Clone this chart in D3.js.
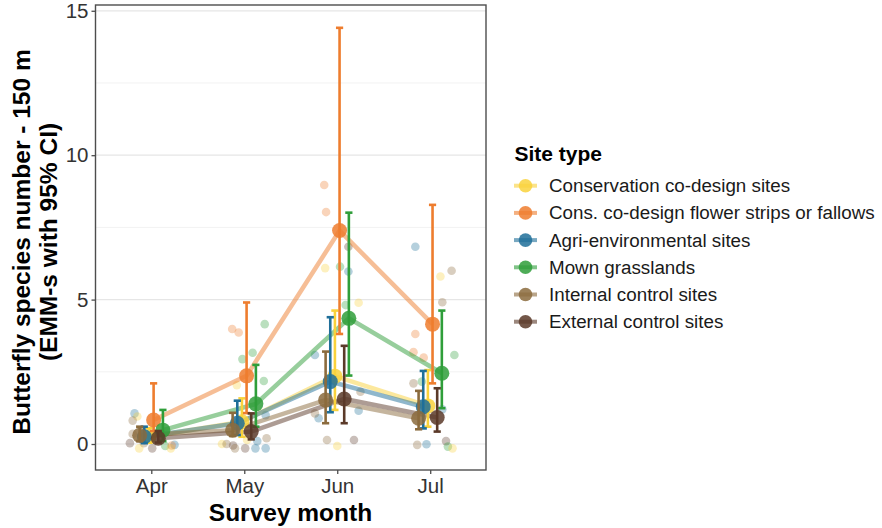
<!DOCTYPE html>
<html><head><meta charset="utf-8">
<script src="https://cdn.jsdelivr.net/npm/d3@7"></script>
<style>body{margin:0;background:#fff}svg{display:block;font-family:"Liberation Sans",Arial,sans-serif}</style>
</head><body><svg id="c" width="882" height="528"></svg>
<script>
const months = ["Apr","May","Jun","Jul"];
const groups = ["Conservation co-design sites","Cons. co-design flower strips or fallows","Agri-environmental sites","Mown grasslands","Internal control sites","External control sites"];
const colors = ["#F9D23C","#EE7D2E","#1F6F99","#2F9E3A","#8B6B3D","#5B3A29"];
const dodgeRank = [2,3,1,5,0,4];
const yTicks = [0,5,10,15];
// estimated marginal means and 95% CI per group, per month
const meanCons = [0.25,0.77,2.35,1.32], lowCons = [0.05,0.25,1.18,0.60], upCons = [0.55,1.58,4.62,2.56];
const meanFlow = [0.83,2.36,7.39,4.15], lowFlow = [0.45,1.07,3.81,2.10], upFlow = [2.10,4.90,14.41,8.28];
const meanAgri = [0.25,0.72,2.16,1.29], lowAgri = [0.03,0.31,1.10,0.54], upAgri = [0.60,1.50,4.39,2.53];
const meanMown = [0.48,1.39,4.35,2.45], lowMown = [0.10,0.60,2.37,1.24], upMown = [1.18,2.74,8.01,4.62];
const meanInt = [0.30,0.48,1.52,0.89], lowInt = [0.10,0.28,0.72,0.51], upInt = [0.60,1.08,3.20,1.84];
const meanExt = [0.20,0.43,1.56,0.92], lowExt = [0.05,0.16,0.72,0.43], upExt = [0.45,1.06,3.40,1.93];
// raw observations: [month index, group index, jitter, value]
const raw = [
[0,2,-0.18,1.06],[0,0,-0.15,0.95],[0,4,-0.20,0.81],[0,5,-0.23,0.03],[0,4,-0.08,0.03],[0,0,-0.13,-0.15],[0,5,0.01,-0.15],[0,3,0.15,-0.07],[0,2,0.25,-0.03],[0,0,0.21,-0.15],[0,1,0.22,-0.05],[0,4,-0.20,0.35],
[1,1,-0.13,3.98],[1,1,-0.06,3.86],[1,3,0.22,4.15],[1,3,-0.02,2.94],[1,3,0.09,3.16],[1,3,0.21,2.18],[1,0,-0.08,2.04],[1,2,0.23,1.0],[1,0,-0.24,0.0],[1,4,-0.19,0.0],[1,5,-0.12,-0.05],[1,4,-0.10,-0.15],[1,5,0.01,-0.15],[1,0,0.03,0.14],[1,2,0.14,0.1],[1,2,0.23,-0.15],[1,2,0.12,-0.15],[1,4,0.24,0.2],
[2,1,-0.14,8.97],[2,1,-0.12,8.03],[2,5,0.12,6.83],[2,0,-0.13,6.09],[2,3,0.03,6.14],[2,2,0.12,5.97],[2,0,0.23,4.89],[2,3,0.09,4.81],[2,2,-0.24,3.08],[2,4,0.25,1.81],[2,2,0.23,1.15],[2,2,-0.20,0.89],[2,4,-0.24,1.06],[2,4,-0.11,0.14],[2,0,0.0,-0.07],[2,5,0.18,0.14],
[3,2,-0.16,6.83],[3,0,0.11,5.8],[3,4,0.23,6.0],[3,4,0.13,4.91],[3,1,-0.16,3.81],[3,1,-0.18,3.18],[3,1,-0.07,2.99],[3,3,0.26,3.08],[3,4,-0.18,2.1],[3,3,-0.09,2.16],[3,2,0.13,1.2],[3,4,-0.14,-0.03],[3,2,-0.04,-0.01],[3,5,0.17,0.1],[3,3,0.19,-0.09],[3,0,0.24,-0.15]
];
const meansAll = [meanCons,meanFlow,meanAgri,meanMown,meanInt,meanExt];
const lowsAll = [lowCons,lowFlow,lowAgri,lowMown,lowInt,lowExt];
const upsAll = [upCons,upFlow,upAgri,upMown,upInt,upExt];

const svg = d3.select("#c");
const L = 95.5, R = 486, T = 5, B = 470;
const x = d3.scaleLinear().domain([0.4, 4.6]).range([L, R]);
const y = d3.scaleLinear().domain([-0.9, 15.2]).range([B, T]);
const dodge = g => (dodgeRank[g] - 2.5) * 0.05;

// grid
const minor = [2.5,7.5,12.5];
svg.append("g").selectAll("line").data(minor).join("line")
  .attr("x1",L).attr("x2",R).attr("y1",d=>y(d)).attr("y2",d=>y(d))
  .attr("stroke","#f2f2f2").attr("stroke-width",1);
svg.append("g").selectAll("line").data(yTicks).join("line")
  .attr("x1",L).attr("x2",R).attr("y1",d=>y(d)).attr("y2",d=>y(d))
  .attr("stroke","#e6e6e6").attr("stroke-width",1.2);

const plot = svg.append("g");
// raw points
plot.append("g").selectAll("circle").data(raw).join("circle")
  .attr("cx",d=>x(d[0]+1+d[2])).attr("cy",d=>y(d[3])).attr("r",4.3)
  .attr("fill",d=>colors[d[1]]).attr("opacity",0.33);

const line = d3.line().x(d=>x(d.m+1+d.off)).y(d=>y(d.v));
groups.forEach((g,gi)=>{
  const pts = meansAll[gi].map((v,m)=>({m, v, off:dodge(gi)}));
  plot.append("path").datum(pts).attr("d",line).attr("fill","none")
    .attr("stroke",colors[gi]).attr("stroke-width",4.5).attr("opacity",0.5);
});
groups.forEach((g,gi)=>{
  const gg = plot.append("g");
  months.forEach((mo,m)=>{
    const cx = x(m+1+dodge(gi));
    const y1 = y(lowsAll[gi][m]), y2 = y(upsAll[gi][m]);
    gg.append("line").attr("x1",cx).attr("x2",cx).attr("y1",y1).attr("y2",y2)
      .attr("stroke",colors[gi]).attr("stroke-width",2.6);
    [y1,y2].forEach(yy=>gg.append("line").attr("x1",cx-3.6).attr("x2",cx+3.6).attr("y1",yy).attr("y2",yy)
      .attr("stroke",colors[gi]).attr("stroke-width",2.6));
  });
  gg.selectAll("circle").data(meansAll[gi]).join("circle")
    .attr("cx",(d,m)=>x(m+1+dodge(gi))).attr("cy",d=>y(d)).attr("r",7.5)
    .attr("fill",colors[gi]).attr("opacity",0.85);
});

// panel border
svg.append("rect").attr("x",L).attr("y",T).attr("width",R-L).attr("height",B-T)
  .attr("fill","none").attr("stroke","#4d4d4d").attr("stroke-width",1.4);

// axes
const yAxis = d3.axisLeft(y).tickValues(yTicks).tickSize(4).tickPadding(3);
const ya = svg.append("g").attr("transform",`translate(${L},0)`).call(yAxis);
const xAxis = d3.axisBottom(x).tickValues([1,2,3,4]).tickFormat((d)=>months[d-1]).tickSize(4).tickPadding(4);
const xa = svg.append("g").attr("transform",`translate(0,${B})`).call(xAxis);
[ya,xa].forEach(a=>{
  a.select(".domain").remove();
  a.selectAll(".tick line").attr("stroke","#4d4d4d").attr("stroke-width",1.3);
  a.selectAll("text").attr("fill","#333").attr("font-size",20.5).attr("font-family","Liberation Sans, Arial, sans-serif");
});
xa.selectAll("text").attr("dy","0.71em");

// titles
svg.append("text").attr("x",290.5).attr("y",521).attr("text-anchor","middle")
  .attr("font-size",24.5).attr("font-weight","bold").attr("fill","#000").text("Survey month");
const yt = svg.append("text").attr("transform","translate(0,242) rotate(-90)").attr("text-anchor","middle")
  .attr("font-size",24.5).attr("font-weight","bold").attr("fill","#000");
yt.append("tspan").attr("x",0).attr("y",30).text("Butterfly species number - 150 m");
yt.append("tspan").attr("x",0).attr("y",57).text("(EMM-s with 95% CI)");

// legend
const lg = svg.append("g");
lg.append("text").attr("x",514.5).attr("y",160.5).attr("font-size",21).attr("font-weight","bold").text("Site type");
groups.forEach((g,gi)=>{
  const cy = 185.7 + gi*27.2;
  lg.append("line").attr("x1",514).attr("x2",537).attr("y1",cy).attr("y2",cy)
    .attr("stroke",colors[gi]).attr("stroke-width",4).attr("opacity",0.6);
  lg.append("circle").attr("cx",525.5).attr("cy",cy).attr("r",6.8).attr("fill",colors[gi]).attr("opacity",0.85);
  lg.append("text").attr("x",549).attr("y",cy).attr("dy","0.35em").attr("font-size",18.8).attr("fill","#1a1a1a").text(g);
});
</script></body></html>
